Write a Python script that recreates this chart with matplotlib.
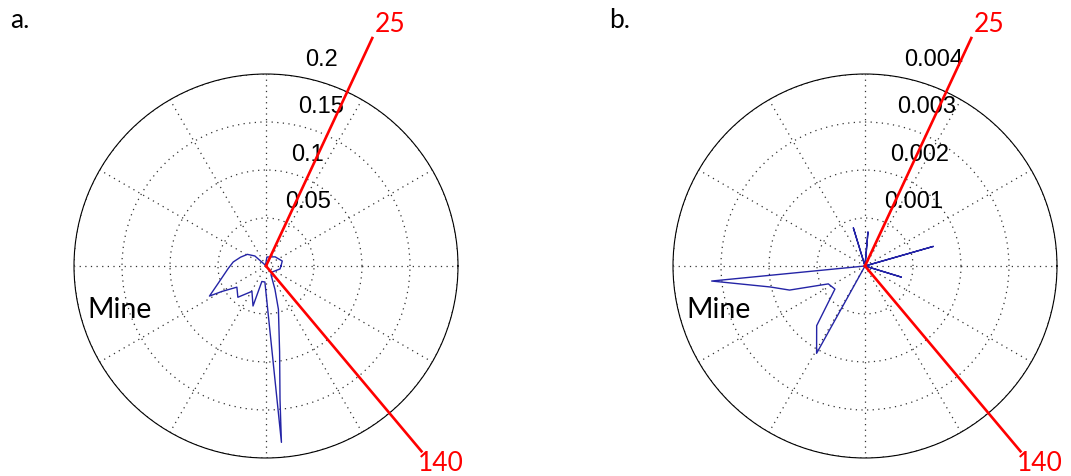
import numpy as np
import matplotlib.pyplot as plt

# panel a: angle (deg, counter-clockwise from east) and radius
theta_a = [0, 17, 45, 84, 100, 125, 138, 148, 161, 173, 184, 200, 208, 210, 216,
           228, 241, 252, 255, 266, 275, 276, 279, 286, 291, 300, 315, 348, 360]
r_a = [0.0156, 0.0177, 0.0135, 0.0094, 0.002, 0.001, 0.0156, 0.0229, 0.0281,
       0.0344, 0.0396, 0.0531, 0.0667, 0.0531, 0.0375, 0.0438, 0.0302, 0.0438,
       0.0167, 0.0167, 0.1844, 0.1396, 0.0906, 0.0469, 0.026, 0.0104, 0.0089,
       0.0149, 0.0156]

# panel b
theta_b = [0, 16, 30, 80, 85, 95, 107, 120, 178, 185.6, 192.5, 197.7, 206,
           217.5, 231, 241, 250, 333, 343, 353, 360]
r_b = [0, 0.00148, 0, 0, 0.00071, 0, 0.00083, 0, 0, 0.00321, 0.00202, 0.00165,
       0.00085, 0.00079, 0.0016, 0.00208, 0, 0, 0.00079, 0, 0]

rings_a = [0.05, 0.1, 0.15, 0.2]
rings_b = [0.001, 0.002, 0.003, 0.004]
ring_labels_a = ['0.05', '0.1', '0.15', '0.2']
ring_labels_b = ['0.001', '0.002', '0.003', '0.004']

# compass bearings of the red lines (clockwise from north)
bearings = [25, 140]
line_len = [1.31, 1.26]  # relative to outer ring

W, H = 1071, 477
fig = plt.figure(figsize=(W / 100, H / 100), dpi=100)


def panel(left_px, theta, r, rings, ring_labels):
    ax = fig.add_axes([left_px / W, 18 / H, 384 / W, 384 / H], projection='polar')
    rmax = rings[-1]
    ax.set_ylim(0, rmax)
    ax.set_yticks(rings)
    ax.set_yticklabels([])
    ax.set_xticks(np.deg2rad(np.arange(0, 360, 30)))
    ax.set_xticklabels([])
    ax.grid(True, linestyle=(0, (1, 3.5)), color='#333333', linewidth=0.9)
    ax.spines['polar'].set_linewidth(0.8)
    ax.spines['polar'].set_color('black')

    ax.plot(np.deg2rad(theta), r, color='#2424a6', linewidth=1.0)

    for val, lab in zip(rings, ring_labels):
        ax.annotate(lab, xy=(np.deg2rad(82), val), xytext=(12, 17),
                    textcoords='offset pixels', ha='left', va='center',
                    fontsize=17, family='Liberation Sans', color='black',
                    annotation_clip=False)

    for b, L in zip(bearings, line_len):
        th = np.deg2rad(90 - b)
        ax.plot([th, th], [0, L * rmax], color='red', linewidth=1.9,
                clip_on=False, zorder=5)
    return ax


panel(74, theta_a, r_a, rings_a, ring_labels_a)
panel(673, theta_b, r_b, rings_b, ring_labels_b)

txt = dict(family='Lato', fontsize=19)
for dx, tag in [(0, 'a.'), (599, 'b.')]:
    fig.text((10 + dx) / W, 1 - 20 / H, tag, ha='left', va='center', **txt)
    fig.text((120 + dx) / W, 1 - 310 / H, 'Mine', ha='center', va='center',
             family='Lato', fontsize=20.5)
    fig.text((390 + dx) / W, 1 - 25 / H, '25', ha='center', va='center',
             color='red', **txt)
    fig.text((441 + dx) / W, 1 - 464 / H, '140', ha='center', va='center',
             color='red', **txt)

fig.savefig('out.png', dpi=100)
